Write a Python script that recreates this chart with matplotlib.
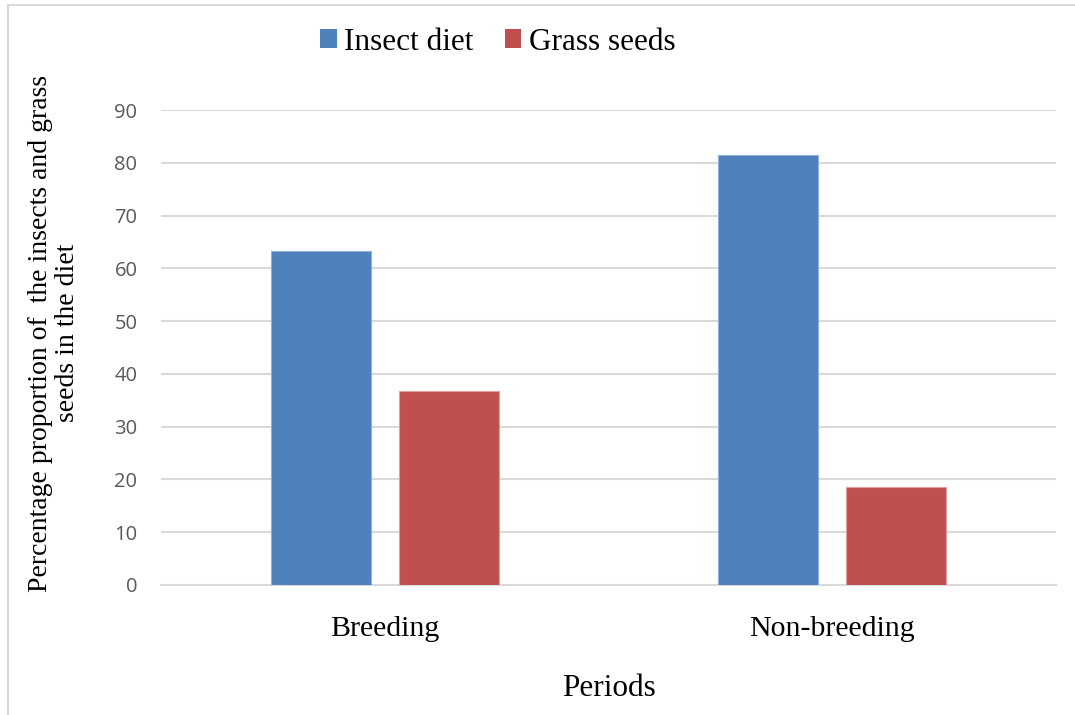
import matplotlib
matplotlib.use("Agg")
import matplotlib.pyplot as plt
import numpy as np
from matplotlib.lines import Line2D
from matplotlib.patches import Patch

# Diet composition by period
periods = ["Breeding", "Non-breeding"]
insect_diet = [63.2, 81.5]
grass_seeds = [36.8, 18.5]
series_names = ["Insect diet", "Grass seeds"]
yticks = [0, 10, 20, 30, 40, 50, 60, 70, 80, 90]

blue = "#4f81bd"
red = "#c0504d"
serif = ["Liberation Serif", "DejaVu Serif"]

fig = plt.figure(figsize=(10.75, 7.15), dpi=100)
ax = fig.add_axes([161 / 1075, 1 - 585 / 715, (1056 - 161) / 1075, (585 - 110) / 715])

x = np.arange(len(periods))
w = 0.2235
off = 0.143
ax.bar(x - off, insect_diet, width=w, color=blue, edgecolor="#8fb0d8", linewidth=0.8, zorder=3)
ax.bar(x + off, grass_seeds, width=w, color=red, edgecolor="#dba09f", linewidth=0.8, zorder=3)

ax.set_xlim(-0.5, len(periods) - 0.5)
ax.set_ylim(0, 90)
ax.set_yticks(yticks)
ax.set_yticklabels([str(t) for t in yticks], fontfamily="Open Sans", fontsize=14.5, color="#595959")
ax.tick_params(axis="y", length=0, pad=17)
ax.set_xticks(x)
ax.set_xticklabels(periods, fontfamily=serif, fontsize=21.5, color="black")
ax.tick_params(axis="x", length=0, pad=22)

ax.grid(axis="y", color="#d9d9d9", linewidth=1.5, zorder=0)
for s in ["top", "right", "left"]:
    ax.spines[s].set_visible(False)
ax.spines["bottom"].set_color("#d9d9d9")
ax.spines["bottom"].set_linewidth(1.5)

ax.set_xlabel("Periods", fontfamily=serif, fontsize=22.5, labelpad=23)
fig.text(54 / 1075, 1 - 333 / 715,
         "Percentage proportion of  the insects and grass\nseeds in the diet",
         rotation=90, ha="center", va="center", fontfamily=serif, fontsize=20,
         linespacing=1.1)

handles = [Patch(facecolor=blue), Patch(facecolor=red)]
fig.legend(handles, series_names, loc="center", bbox_to_anchor=(498 / 1075, 1 - 42 / 715),
           ncol=2, frameon=False, prop={"family": serif, "size": 22.5},
           handlelength=0.52, handleheight=0.52, handletextpad=0.25, columnspacing=1.0)

# Chart frame edges
fig.add_artist(Line2D([8 / 1075, 8 / 1075], [0, 1 - 5 / 715], color="#d9d9d9", linewidth=1.5,
                      transform=fig.transFigure))
fig.add_artist(Line2D([8 / 1075, 1], [1 - 5 / 715, 1 - 5 / 715], color="#d9d9d9", linewidth=1.5,
                      transform=fig.transFigure))

fig.savefig("out.png", dpi=100, facecolor="white")
